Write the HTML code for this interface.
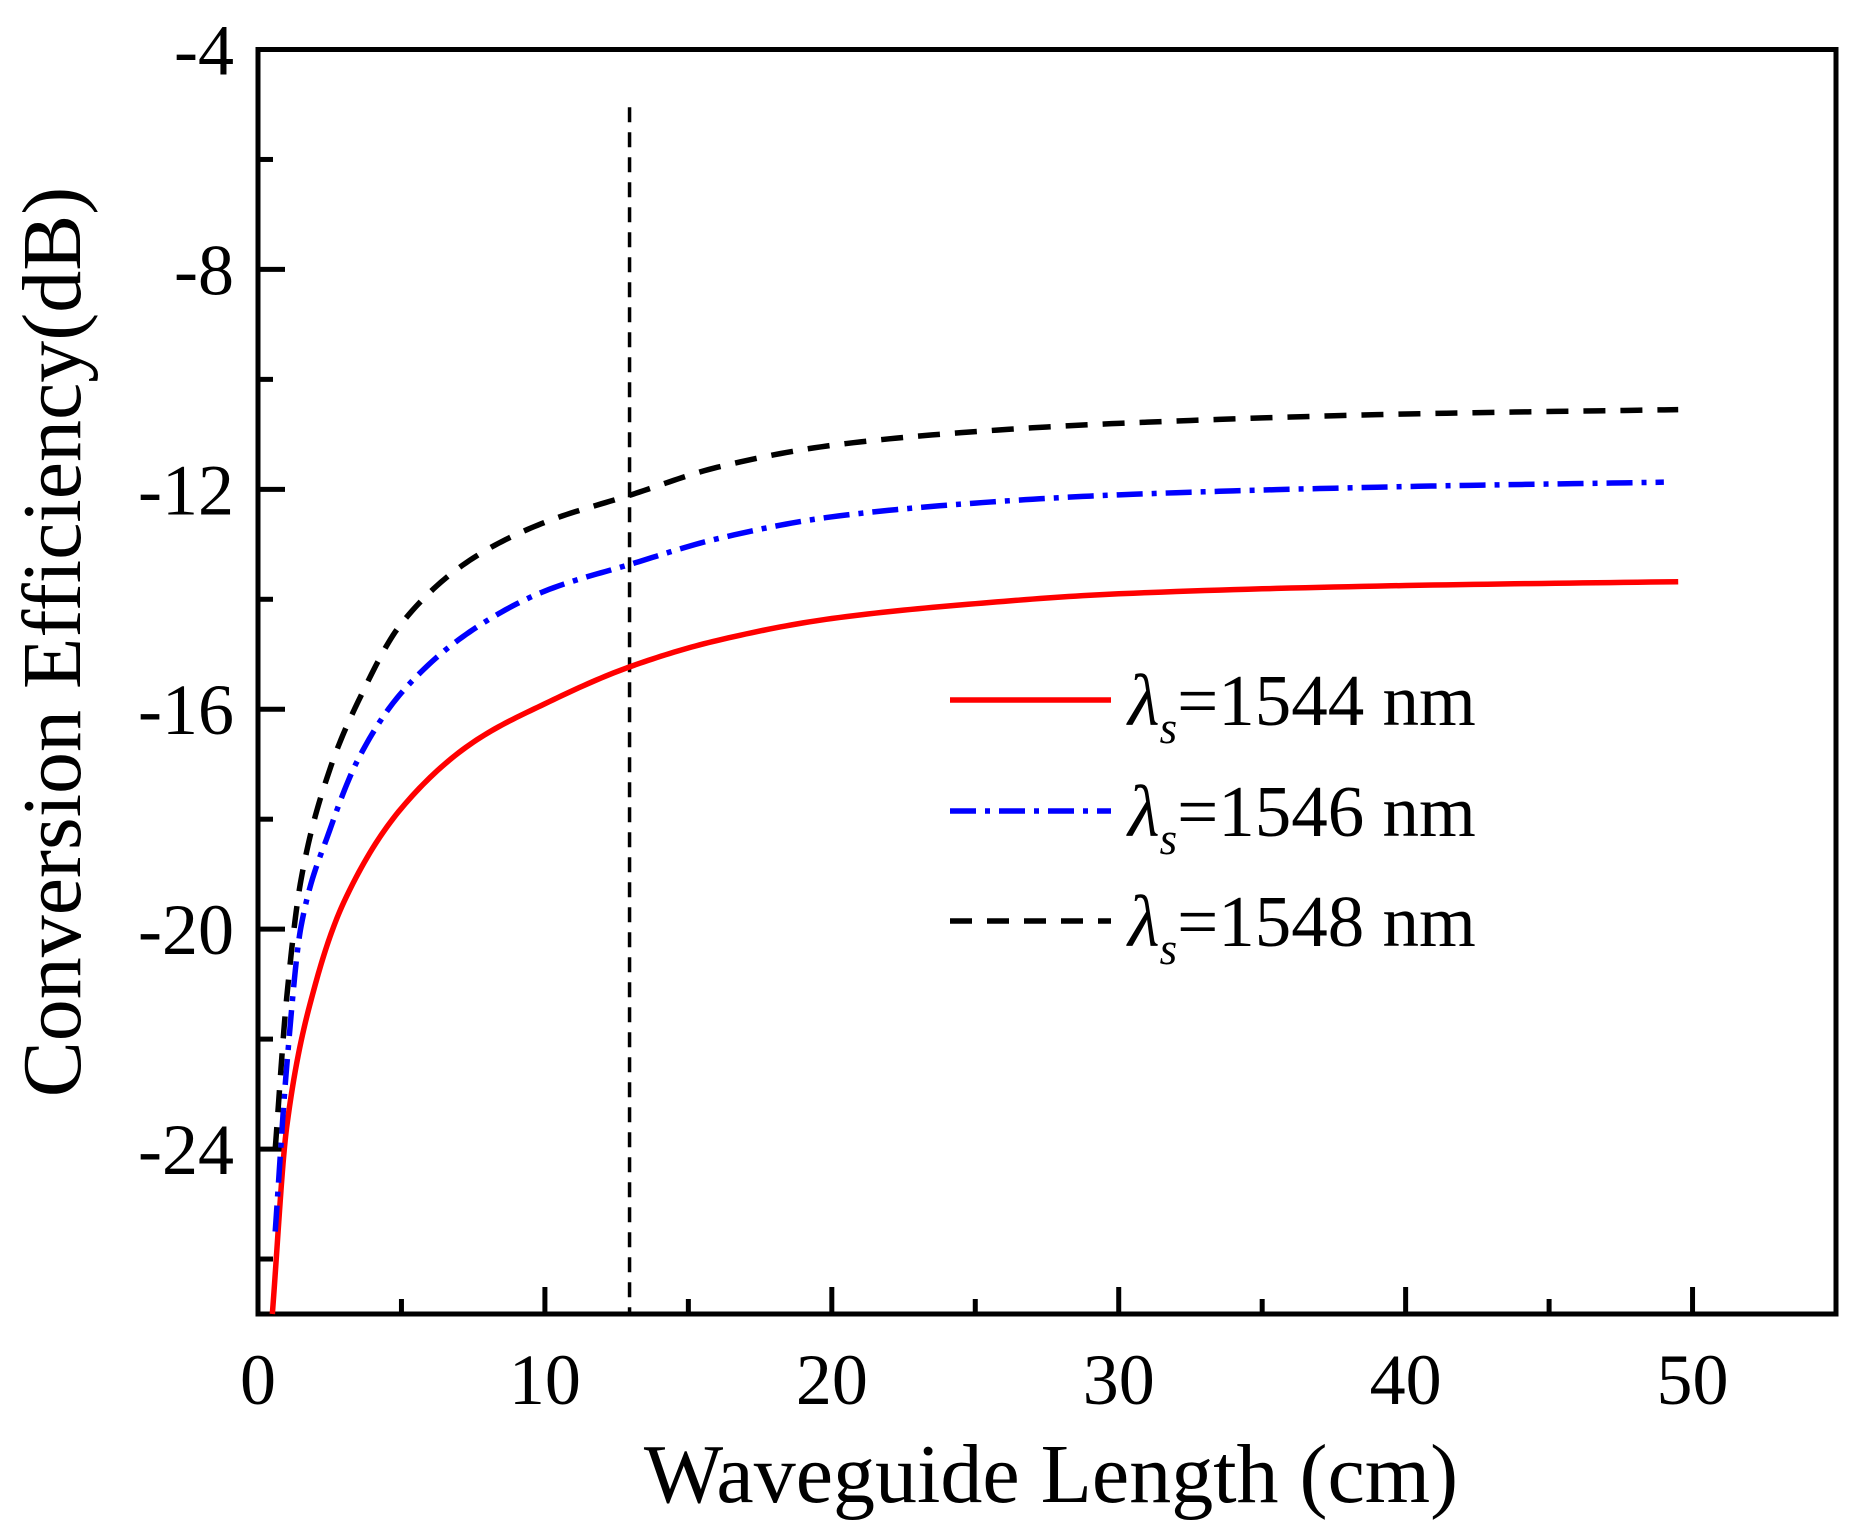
<!DOCTYPE html>
<html><head><meta charset="utf-8"><style>
html,body{margin:0;padding:0;background:#fff;}
svg{display:block;font-family:"Liberation Serif",serif;}
</style></head><body>
<svg id="chart" width="1854" height="1538" viewBox="0 0 1854 1538" xmlns="http://www.w3.org/2000/svg">
<g id="plot"></g>
</svg>
<script>
const xs1544 = [0.5, 1, 2, 3, 5, 7.5, 10, 13, 16, 20, 25, 30, 40, 49.5];
const ys1544 = [-27, -23.6, -21.0, -19.5, -17.8, -16.6, -15.9, -15.22, -14.75, -14.35, -14.08, -13.9, -13.75, -13.68];
const xs1546 = [0.6, 1, 1.5, 2.5, 3.5, 5, 7.5, 10, 13, 16, 20, 25, 30, 40, 49];
const ys1546 = [-25.5, -22.5, -19.95, -18.2, -16.9, -15.7, -14.55, -13.85, -13.36, -12.9, -12.5, -12.25, -12.1, -11.95, -11.87];
const xs1548 = [0.6, 1, 1.5, 2.5, 3.5, 5, 7.5, 10, 13, 16, 20, 25, 30, 40, 49.5];
const ys1548 = [-24, -21.25, -19.1, -17.1, -15.85, -14.44, -13.25, -12.6, -12.1, -11.6, -11.2, -10.95, -10.8, -10.63, -10.55];
const markerX = [12.95];
const markerYTop = [-5.05];
const xTicks = [0, 10, 20, 30, 40, 50];
const yTicks = [-4, -8, -12, -16, -20, -24];
const legendLabels = ["1544", "1546", "1548"];

const NS = "http://www.w3.org/2000/svg";
const X0 = 258, X1 = 1836, Y0 = 49.5, Y1 = 1314;
const xMin = 0, xMax = 55, yMax = -4, yMin = -27;
function sx(v){ return X0 + (v - xMin) / (xMax - xMin) * (X1 - X0); }
function sy(v){ return Y0 + (yMax - v) / (yMax - yMin) * (Y1 - Y0); }
const plot = document.getElementById('plot');
function mk(tag, attrs, parent){
  const e = document.createElementNS(NS, tag);
  for (const k in attrs) e.setAttribute(k, attrs[k]);
  (parent || plot).appendChild(e);
  return e;
}
// monotone cubic (Fritsch-Carlson) in data space, sampled
function monoPath(xa, ya){
  const n = xa.length, d = [], m = new Array(n);
  for (let i=0;i<n-1;i++) d.push((ya[i+1]-ya[i])/(xa[i+1]-xa[i]));
  m[0]=d[0]; m[n-1]=d[n-2];
  for (let i=1;i<n-1;i++){
    if (d[i-1]*d[i]<=0) m[i]=0;
    else { const w1=2*(xa[i+1]-xa[i])+(xa[i]-xa[i-1]), w2=(xa[i+1]-xa[i])+2*(xa[i]-xa[i-1]);
      m[i]=(w1+w2)/(w1/d[i-1]+w2/d[i]); }
  }
  let s = "M"+sx(xa[0])+","+sy(ya[0]);
  for (let i=0;i<n-1;i++){
    const h = xa[i+1]-xa[i];
    for (let k=1;k<=20;k++){
      const t=k/20, t2=t*t, t3=t2*t;
      const y=(2*t3-3*t2+1)*ya[i]+(t3-2*t2+t)*h*m[i]+(-2*t3+3*t2)*ya[i+1]+(t3-t2)*h*m[i+1];
      s += " L"+sx(xa[i]+t*h).toFixed(2)+","+sy(y).toFixed(2);
    }
  }
  return s;
}
let frame = mk('rect', {x:X0, y:Y0, width:X1-X0, height:Y1-Y0, fill:'none', stroke:'#000', 'stroke-width':5});


for (let v = 0; v <= 55; v += 5){
  const major = v % 10 === 0;
  const t = mk('line', {x1:sx(v), x2:sx(v), y1:Y1, y2:Y1-(major?27:15), stroke:'#000','stroke-width':5});
  
  
}
xTicks.forEach(v=>{
  const t = mk('text', {x:sx(v), y:1404, 'font-size':72, 'text-anchor':'middle'});
  t.textContent = v;
  
  
});
for (let v = -4; v >= -27; v -= 2){
  const major = v % 4 === 0;
  const t = mk('line', {x1:X0, x2:X0+(major?27:15), y1:sy(v), y2:sy(v), stroke:'#000','stroke-width':5});
  
  
}
yTicks.forEach(v=>{
  const t = mk('text', {x:234, y:sy(v)+25, 'font-size':72, 'text-anchor':'end'});
  t.textContent = v;
  
  
});
let xt = mk('text', {x:1051, y:1502, 'font-size':84, 'text-anchor':'middle'});
xt.textContent = 'Waveguide Length (cm)';


let yt = mk('text', {x:0, y:0, 'font-size':84, 'text-anchor':'middle', transform:'translate(80,642) rotate(-90)'});
yt.textContent = 'Conversion Efficiency(dB)';


let ml = mk('line', {x1:sx(markerX[0]), x2:sx(markerX[0]), y1:sy(markerYTop[0]), y2:Y1, stroke:'#000','stroke-width':3.5,'stroke-dasharray':'15 10'});


const styles = [
  {x:xs1544, y:ys1544, color:'#ff0000', dash:'none', name:'series-1544nm'},
  {x:xs1546, y:ys1546, color:'#0000ff', dash:'26 9 5 9', name:'series-1546nm'},
  {x:xs1548, y:ys1548, color:'#000000', dash:'22 15', name:'series-1548nm'}
];
styles.forEach(s=>{
  const p = mk('path', {d:monoPath(s.x, s.y), fill:'none', stroke:s.color, 'stroke-width':5.5, 'stroke-dasharray':s.dash, 'stroke-linejoin':'round'});
  
  
});
const legYs = [700, 811, 921];
styles.forEach((s,i)=>{
  const l = mk('line', {x1:950, x2:1111, y1:legYs[i], y2:legYs[i], stroke:s.color, 'stroke-width':5.5, 'stroke-dasharray':s.dash});
  
  
  const t = mk('text', {x:1128, y:legYs[i]+25, 'font-size':73});
  
  
  const a = mk('tspan', {'font-style':'italic'}, t); a.textContent = 'λ';
  const b = mk('tspan', {'font-style':'italic','font-size':45, dy:18}, t); b.textContent = 's';
  const c = mk('tspan', {dy:-18}, t); c.textContent = '=' + legendLabels[i] + ' nm';
});
</script>
</body></html>
